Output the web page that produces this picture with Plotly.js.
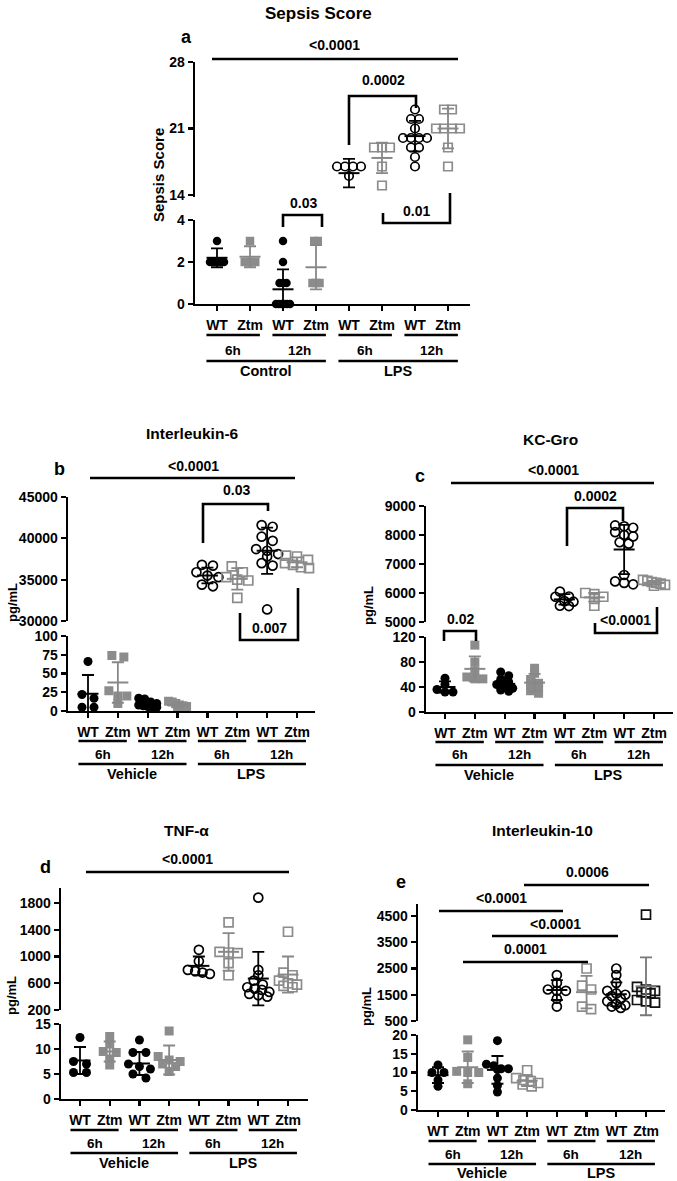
<!DOCTYPE html>
<html><head><meta charset="utf-8">
<script src="https://cdn.plot.ly/plotly-3.0.1.min.js"></script>
<style>html,body{margin:0;padding:0;background:#fff}#chart{width:677px;height:1181px}</style>
</head><body><div id="chart"></div>
<script>
// ---------------- DATA ----------------
const groupLabels = ['WT','Ztm','WT','Ztm','WT','Ztm','WT','Ztm'];
const timeLabels = ['6h','12h','6h','12h'];
const sepsisTreatments = ['Control','LPS'];
const cytokineTreatments = ['Vehicle','LPS'];

// a: Sepsis score (groups: Ctrl6h WT, Ctrl6h Ztm, Ctrl12h WT, Ctrl12h Ztm, LPS6h WT, LPS6h Ztm, LPS12h WT, LPS12h Ztm)
const sepsisPoints = [
  [3,2,2,2,2,2],
  [3,2,2,2,2],
  [3,2,1,1,1,0,0,0,0,0,0],
  [3,3,1,1,1],
  [17,17,17,17,16,13],
  [19,19,19,17,15],
  [23,22,22,21,20,20,20,20,19,19,18,17],
  [23,23,21,21,21,21,19,17]
];
const sepsisMean = [2.2,2.25,0.7,1.75,16.3,17.9,20.2,21.0];
const sepsisSD   = [0.45,0.5,0.95,1.05,1.5,1.6,1.6,2.1];

// b: Interleukin-6 (pg/mL)
const il6Points = [
  [66,22,17,5,5],
  [74,72,27,20,20,10],
  [17,16,12,10,8,7,6,5,5],
  [13,12,10,8,7,6,5],
  [36800,36700,35900,35500,35300,34400,34200],
  [36600,35900,35300,35000,34900,32800],
  [41600,41400,40200,39700,38700,38500,38100,37800,37000,36700,31400],
  [37900,37800,37400,37000,36800,36500,36400]
];
const il6Mean = [23,38,9,8,35500,35100,38500,37100];
const il6SD   = [25,27,4,3,950,1300,2800,600];

// c: KC-Gro (pg/mL)
const kcPoints = [
  [54,44,36,32,32],
  [107,80,66,56,53,53],
  [64,58,52,48,44,40,38,35,33],
  [70,62,52,46,42,40,34,30],
  [6050,5880,5870,5720,5700,5560,5550],
  [6000,5960,5870,5800,5560],
  [8330,8300,8250,8100,8000,7950,7750,7700,6620,6400,6350,6300],
  [6450,6420,6380,6350,6320,6280,6250]
];
const kcMean = [40,69,45,47,5780,5850,7500,6350];
const kcSD   = [9,20,10,14,180,150,850,70];

// d: TNF-α (pg/mL)
const tnfPoints = [
  [12.3,7.5,7,5.3,5.3],
  [12.5,11,9.5,9.3,8,6.8],
  [11.8,9.3,9.3,7,6.5,6,5,4.2],
  [13.6,8.5,7.8,7.5,7,6.5,5.5],
  [1100,930,800,780,760,740],
  [1510,1070,1060,1050,900,720],
  [1880,800,720,640,580,540,520,500,470,440,420,400],
  [1370,760,720,640,600,580,560,540]
];
const tnfMean = [7.7,9.5,7.1,7.8,860,1070,670,730];
const tnfSD   = [2.7,2.0,2.3,2.9,140,280,400,270];

// e: Interleukin-10 (pg/mL)
const il10Points = [
  [12,10,10,8,6.3],
  [18.7,14,10.3,10,10,7],
  [18.5,12.2,11.8,11,11,10.8,8.5,6.5,4.8],
  [10.6,8.5,8,7.7,7.2,6.8,6.3],
  [2250,1950,1700,1650,1650,1350,1050],
  [2500,1850,1700,1050,950],
  [2500,2250,1950,1650,1550,1500,1450,1350,1250,1150,1100,1050,1000],
  [4550,1800,1700,1650,1600,1550,1300,1250,1200]
];
const il10Mean = [9.3,11.4,10.7,7.8,1680,1600,1520,1820];
const il10SD   = [2.1,4.2,3.7,1.4,380,620,450,1100];

// ---------------- LAYOUT HELPERS ----------------
const W = 677, H = 1181;
const FONT = 'Liberation Sans, Arial, Helvetica, sans-serif';
const fx = p => p / W;
const fy = p => 1 - p / H;
const GRAY = '#8c8c8c';

function valAt(cal, p){ const [[v1,p1],[v2,p2]] = cal; return v1 + (p - p1) * (v2 - v1) / (p2 - p1); }
function pxPer(cal){ const [[v1,p1],[v2,p2]] = cal; return Math.abs((p2 - p1) / (v2 - v1)); }
function pxAt(cal, v){ const [[v1,p1],[v2,p2]] = cal; return p1 + (v - v1) * (p2 - p1) / (v2 - v1); }

// Prism-like scatter: points within one vertical bin are spread horizontally, centred.
function binOffsets(vals, ppu, gx, gy, maxW){
  const order = vals.map((v,i)=>i).sort((a,b)=>vals[b]-vals[a]);
  const bins = [];
  for (const i of order){
    const y = vals[i] * ppu;
    const last = bins[bins.length-1];
    if (last && (last.y0 - y) < gy) last.items.push(i);
    else bins.push({y0:y, items:[i]});
  }
  const off = new Array(vals.length).fill(0);
  bins.forEach(b => {
    const n = b.items.length;
    const step = n > 1 ? Math.min(gx, maxW/(n-1)) : 0;
    b.items.forEach((i, j) => { off[i] = (j - (n-1)/2) * step; });
  });
  return off;
}

const stdStyles = [
  {sym:'circle', color:'#000'}, {sym:'square', color:GRAY},
  {sym:'circle', color:'#000'}, {sym:'square', color:GRAY},
  {sym:'circle-open', color:'#000'}, {sym:'square-open', color:GRAY},
  {sym:'circle-open', color:'#000'}, {sym:'square-open', color:GRAY}
];
const il10Styles = stdStyles.slice();
il10Styles[3] = {sym:'square-open', color:GRAY};
il10Styles[7] = {sym:'square-open', color:'#111'};
const stdErr = ['#000','#888','#000','#888','#000','#888','#000','#888'];
const il10Err = stdErr.slice(); il10Err[7] = '#777';

const panels = [
  {pts:sepsisPoints, mean:sepsisMean, sd:sepsisSD, treat:sepsisTreatments,
   title:'Sepsis Score', titlePx:[318,13], titleSize:17, letter:'a', letterPx:[186,37],
   ytitle:'Sepsis Score', ytitlePx:[159,175], ytitleSize:15,
   x:{dom:[195,470], cal:[[0,217],[7,448]]},
   lo:{dom:[304,220], cal:[[0,304],[4,220]], tick0:0, dtick:2},
   up:{dom:[197,62], cal:[[14,195],[28,62]], tick0:14, dtick:7},
   styles:stdStyles, err:stdErr, msize:8.5,
   filled:{gx:3.5, gy:5, maxW:14}, open:{gx:8, gy:5, maxW:24}, rows:[18,31,46,57,67],
   texts:[['<0.0001',334,45],['0.0002',383,80],['0.03',303,203],['0.01',416,211]],
   lines:[[212,59,458,59]],
   brackets:[[[349,145],[349,96],[416,96],[416,108]],[[283,227],[283,215],[322,215],[322,227]],[[383,213],[383,223],[450,223],[450,193]]]},
  {pts:il6Points, mean:il6Mean, sd:il6SD, treat:cytokineTreatments,
   title:'Interleukin-6', titlePx:[192,433], titleSize:15.5, letter:'b', letterPx:[59,469],
   ytitle:'pg/mL', ytitlePx:[12,603], ytitleSize:13,
   x:{dom:[68,315], cal:[[0,88],[7,297]]},
   lo:{dom:[711,636], cal:[[0,711],[100,636]], tick0:0, dtick:25},
   up:{dom:[621,497], cal:[[30000,621],[45000,497]], tick0:30000, dtick:5000},
   styles:stdStyles, err:stdErr, msize:9,
   filled:{gx:12, gy:6, maxW:18}, open:{gx:11, gy:6, maxW:24}, rows:[18,30,43,53,63],
   texts:[['<0.0001',193,466],['0.03',236,490],['0.007',269,628]],
   lines:[[90,478,295,478]],
   brackets:[[[203,543],[203,504],[268,504],[268,511]],[[240,613],[240,640],[298,640],[298,588]]]},
  {pts:kcPoints, mean:kcMean, sd:kcSD, treat:cytokineTreatments,
   title:'KC-Gro', titlePx:[550,439], titleSize:15.5, letter:'c', letterPx:[420,476],
   ytitle:'pg/mL', ytitlePx:[368,606], ytitleSize:13,
   x:{dom:[426,673], cal:[[0,445],[7,654]]},
   lo:{dom:[712,637], cal:[[0,712],[120,637]], tick0:0, dtick:40},
   up:{dom:[622,506], cal:[[5000,622],[9000,506]], tick0:5000, dtick:1000},
   styles:stdStyles, err:stdErr, msize:9,
   filled:{gx:8, gy:5, maxW:18}, open:{gx:9, gy:5, maxW:22}, rows:[18,30,43,53,63],
   texts:[['<0.0001',553,470],['0.0002',595,496],['0.02',460,619],['<0.0001',625,620]],
   lines:[[451,483,654,483]],
   brackets:[[[567,546],[567,508],[623,508],[623,521]],[[444,641],[444,631],[476,631],[476,641]],[[595,623],[595,633],[657,633],[657,607]]]},
  {pts:tnfPoints, mean:tnfMean, sd:tnfSD, treat:cytokineTreatments,
   title:'TNF-α', titlePx:[186,830], titleSize:15.5, letter:'d', letterPx:[45,867],
   ytitle:'pg/mL', ytitlePx:[11,995], ytitleSize:13,
   x:{dom:[61,308], cal:[[0,80],[7,288]]},
   lo:{dom:[1099,1024], cal:[[0,1099],[15,1024]], tick0:0, dtick:5},
   up:{dom:[1010,888], cal:[[200,1010],[1800,903]], tick0:200, dtick:400},
   styles:stdStyles, err:stdErr, msize:9,
   filled:{gx:13, gy:6, maxW:22}, open:{gx:9, gy:5, maxW:22}, rows:[18,31,44,54,64],
   texts:[['<0.0001',187,859]],
   lines:[[86,872,289,872]],
   brackets:[]},
  {pts:il10Points, mean:il10Mean, sd:il10SD, treat:cytokineTreatments,
   title:'Interleukin-10', titlePx:[542,830], titleSize:15.5, letter:'e', letterPx:[401,882],
   ytitle:'pg/mL', ytitlePx:[367,1006], ytitleSize:13,
   x:{dom:[418,665], cal:[[0,438],[7,646]]},
   lo:{dom:[1110,1035], cal:[[0,1110],[20,1035]], tick0:0, dtick:5},
   up:{dom:[1021,904], cal:[[500,1021],[4500,916]], tick0:500, dtick:1000},
   styles:il10Styles, err:il10Err, msize:9,
   filled:{gx:12, gy:5, maxW:22}, open:{gx:9, gy:5, maxW:22}, rows:[18,31,44,54,63],
   texts:[['0.0006',587,872],['<0.0001',501,898],['<0.0001',555,924],['0.0001',525,949]],
   lines:[[524,885,649,885],[439,911,563,911],[492,936,618,936],[463,962,588,962]],
   brackets:[]}
];

const traces = [];
const layout = {
  width: W, height: H, margin:{l:0,r:0,t:0,b:0,pad:0},
  paper_bgcolor:'#fff', plot_bgcolor:'rgba(0,0,0,0)', showlegend:false,
  font:{family:FONT, color:'#000'},
  shapes:[], annotations:[]
};

const axisCommon = {
  showline:true, linewidth:2.4, linecolor:'#000', ticks:'outside', ticklen:5, tickwidth:2.2, tickcolor:'#000',
  showgrid:false, zeroline:false, fixedrange:true, exponentformat:'none', separatethousands:false,
  tickfont:{family:FONT, size:14, color:'#000', weight:'bold'}
};

function txt(text, x, y, size, extra){
  return Object.assign({text:text, x:fx(x), y:fy(y), xref:'paper', yref:'paper', showarrow:false,
    xanchor:'center', yanchor:'middle', font:{family:FONT, size:size, color:'#000', weight:'bold'}}, extra||{});
}
function hline(x0, x1, y, w){
  return {type:'line', xref:'paper', yref:'paper', x0:fx(x0), x1:fx(x1), y0:fy(y), y1:fy(y), line:{color:'#000', width:w||2.4}};
}

panels.forEach((P, pi) => {
  const xi = pi + 1, loi = 2*pi + 1, upi = 2*pi + 2;
  const xName = xi === 1 ? 'x' : 'x' + xi;
  const loName = loi === 1 ? 'y' : 'y' + loi;
  const upName = 'y' + upi;
  const xKey = xi === 1 ? 'xaxis' : 'xaxis' + xi;
  const loKey = loi === 1 ? 'yaxis' : 'yaxis' + loi;
  const upKey = 'yaxis' + upi;

  layout[xKey] = Object.assign({}, axisCommon, {
    domain:[fx(P.x.dom[0]), fx(P.x.dom[1])], range:[valAt(P.x.cal, P.x.dom[0]), valAt(P.x.cal, P.x.dom[1])],
    anchor:loName, tickmode:'array', tickvals:groupLabels.map((_,i)=>i), ticktext:groupLabels, ticklabelstandoff:2
  });
  layout[loKey] = Object.assign({}, axisCommon, {
    domain:[fy(P.lo.dom[0]), fy(P.lo.dom[1])], range:[valAt(P.lo.cal, P.lo.dom[0]), valAt(P.lo.cal, P.lo.dom[1])],
    anchor:xName, tickmode:'linear', tick0:P.lo.tick0, dtick:P.lo.dtick, tickformat:'d'
  });
  layout[upKey] = Object.assign({}, axisCommon, {
    domain:[fy(P.up.dom[0]), fy(P.up.dom[1])], range:[valAt(P.up.cal, P.up.dom[0]), valAt(P.up.cal, P.up.dom[1])],
    anchor:xName, tickmode:'linear', tick0:P.up.tick0, dtick:P.up.dtick, tickformat:'d'
  });

  const xppu = pxPer(P.x.cal);
  // points
  P.pts.forEach((vals, g) => {
    const isUp = g >= 4;
    const ppu = pxPer(isUp ? P.up.cal : P.lo.cal);
    const st = P.styles[g];
    const open = st.sym.indexOf('open') >= 0;
    const sp = open ? P.open : P.filled;
    const offs = binOffsets(vals, ppu, sp.gx, sp.gy, sp.maxW);
    traces.push({type:'scatter', mode:'markers', xaxis:xName, yaxis:isUp ? upName : loName,
      x: offs.map(o => g + o / xppu), y: vals, cliponaxis:false, hoverinfo:'skip',
      marker:{symbol:st.sym, size:P.msize, color:st.color, line:{width: open ? 1.7 : 0, color:st.color}}});
  });
  // mean ± SD
  P.mean.forEach((m, g) => {
    const isUp = g >= 4;
    traces.push({type:'scatter', mode:'markers', xaxis:xName, yaxis:isUp ? upName : loName,
      x:[g], y:[m], cliponaxis:false, hoverinfo:'skip',
      marker:{symbol:'line-ew-open', size:15, color:P.err[g], line:{width:2, color:P.err[g]}},
      error_y:{type:'data', array:[P.sd[g]], visible:true, width:6, thickness:1.8, color:P.err[g]}});
  });

  // titles
  layout.annotations.push(txt(P.title, P.titlePx[0], P.titlePx[1], P.titleSize));
  layout.annotations.push(txt(P.letter, P.letterPx[0], P.letterPx[1], 18));
  layout.annotations.push(txt(P.ytitle, P.ytitlePx[0], P.ytitlePx[1], P.ytitleSize, {textangle:-90}));

  // group labels under x axis
  const axisY = P.lo.dom[0];
  const r = P.rows;
  const tickPx = i => pxAt(P.x.cal, i);
  const u = xppu;
  timeLabels.forEach((t, k) => {
    const x0 = tickPx(2*k) - 0.32*u, x1 = tickPx(2*k+1) + 0.3*u;
    layout.shapes.push(hline(x0, x1, axisY + r[1], 2.4));
    layout.annotations.push(txt(t, (x0 + x1)/2, axisY + r[2], 13.5));
  });
  P.treat.forEach((t, k) => {
    const x0 = tickPx(4*k) - 0.32*u, x1 = tickPx(4*k+3) + 0.3*u;
    layout.shapes.push(hline(x0, x1, axisY + r[3], 2.4));
    layout.annotations.push(txt(t, (x0 + x1)/2, axisY + r[4], 14.5));
  });

  // significance annotations
  P.texts.forEach(t => layout.annotations.push(txt(t[0], t[1], t[2], 14)));
  P.lines.forEach(l => layout.shapes.push(hline(l[0], l[2], l[1], 2.6)));
  P.brackets.forEach(b => {
    const path = b.map((p, i) => (i ? 'L' : 'M') + fx(p[0]) + ',' + fy(p[1])).join(' ');
    layout.shapes.push({type:'path', xref:'paper', yref:'paper', path:path, line:{color:'#000', width:2.6}});
  });
});

Plotly.newPlot('chart', traces, layout, {staticPlot:true, displayModeBar:false});
</script>
</body></html>
